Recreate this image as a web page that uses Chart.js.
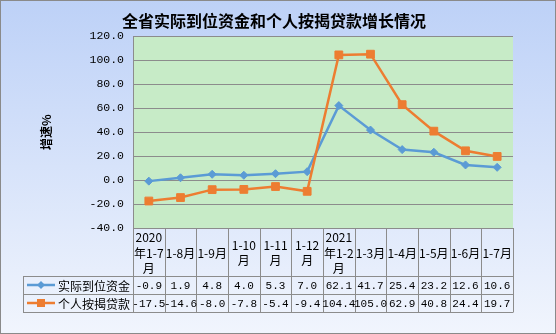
<!DOCTYPE html>
<html>
<head>
<meta charset="utf-8">
<script src="https://cdn.jsdelivr.net/npm/chart.js@4/dist/chart.umd.min.js"></script>
<style>
  html, body { margin: 0; padding: 0; background: #fff; }
  #c { display: block; }
</style>
</head>
<body>
<canvas id="c" width="556" height="334"></canvas>
<script>
// Categories (multi-line headers of the data table)
const categories = [
  ['2020', '年1-7', '月'], ['1-8月'], ['1-9月'], ['1-10', '月'], ['1-11', '月'], ['1-12', '月'],
  ['2021', '年1-2', '月'], ['1-3月'], ['1-4月'], ['1-5月'], ['1-6月'], ['1-7月']
];
const seriesNames = ['实际到位资金', '个人按揭贷款'];
const fundsGrowth    = [-0.9, 1.9, 4.8, 4.0, 5.3, 7.0, 62.1, 41.7, 25.4, 23.2, 12.6, 10.6];
const mortgageGrowth = [-17.5, -14.6, -8.0, -7.8, -5.4, -9.4, 104.4, 105.0, 62.9, 40.8, 24.4, 19.7];
const yMin = -40, yMax = 120, yStep = 20;

const BLUE = '#5b9bd5';
const ORANGE = '#ed7d31';
const LINE = '#8c8c8c';
const CJK = '"Noto Sans CJK SC", sans-serif';
const MONO = '"Liberation Mono", "DejaVu Sans Mono", monospace';

// Background, plot fill, data table and outer frame
const frame = {
  id: 'frame',
  beforeDraw(chart) {
    const { ctx, width, height, chartArea: a } = chart;
    ctx.save();
    const g = ctx.createLinearGradient(0, 0, 0, height);
    g.addColorStop(0, '#bdd1f7');
    g.addColorStop(1, '#f1f5fd');
    ctx.fillStyle = g;
    ctx.fillRect(0, 0, width, height);
    ctx.fillStyle = '#c7ebc7';
    ctx.fillRect(a.left, a.top, a.right - a.left, a.bottom - a.top);
    ctx.restore();
  },
  afterDraw(chart) {
    const { ctx, width, height, chartArea: a } = chart;
    const xs = chart.scales.x;
    const colW = xs.getPixelForValue(1) - xs.getPixelForValue(0);
    const legendLeft = 23;
    const headTop = a.bottom, headBot = headTop + 48;
    const r1Bot = headBot + 18, r2Bot = r1Bot + 18;
    const px = v => Math.round(v) + 0.5;

    ctx.save();
    ctx.strokeStyle = LINE;
    ctx.lineWidth = 1;
    ctx.beginPath();
    // horizontal rules
    ctx.moveTo(a.left, px(headTop)); ctx.lineTo(a.right, px(headTop));
    [headBot, r1Bot, r2Bot].forEach(y => { ctx.moveTo(legendLeft, px(y)); ctx.lineTo(a.right, px(y)); });
    // column rules
    for (let k = 0; k <= categories.length; k++) {
      const x = px(xs.getPixelForValue(k) - colW / 2);
      ctx.moveTo(x, headTop); ctx.lineTo(x, r2Bot + 0.5);
    }
    ctx.moveTo(px(legendLeft), headBot); ctx.lineTo(px(legendLeft), r2Bot + 0.5);
    ctx.stroke();

    ctx.fillStyle = '#000';
    ctx.textAlign = 'center';
    ctx.textBaseline = 'middle';
    // header labels
    ctx.font = '12px ' + CJK;
    const headMid = (headTop + headBot) / 2 + 1;
    const lh = 15.5;
    categories.forEach((lines, i) => {
      const cx = xs.getPixelForValue(i);
      lines.forEach((t, j) => {
        ctx.fillText(t, cx, headMid + (j - (lines.length - 1) / 2) * lh);
      });
    });
    // values
    ctx.font = '11px ' + MONO;
    const rows = [[fundsGrowth, (headBot + r1Bot) / 2], [mortgageGrowth, (r1Bot + r2Bot) / 2]];
    rows.forEach(([vals, y]) => {
      vals.forEach((v, i) => ctx.fillText(v.toFixed(1), xs.getPixelForValue(i), y + 1));
    });
    // legend keys
    const keys = [[BLUE, 'diamond', seriesNames[0], rows[0][1]], [ORANGE, 'square', seriesNames[1], rows[1][1]]];
    keys.forEach(([c, shape, name, y]) => {
      ctx.strokeStyle = c; ctx.fillStyle = c; ctx.lineWidth = 2.5;
      ctx.beginPath(); ctx.moveTo(27, y); ctx.lineTo(55, y); ctx.stroke();
      ctx.beginPath();
      if (shape === 'diamond') {
        ctx.moveTo(41, y - 4); ctx.lineTo(45, y); ctx.lineTo(41, y + 4); ctx.lineTo(37, y);
      } else {
        ctx.rect(37, y - 4, 8, 8);
      }
      ctx.fill();
      ctx.fillStyle = '#000';
      ctx.textAlign = 'left';
      ctx.font = '12px ' + CJK;
      ctx.fillText(name, 58, y + 1);
    });

    // outer frame
    ctx.strokeStyle = '#8a8a8a';
    ctx.lineWidth = 1;
    ctx.strokeRect(0.5, 0.5, width - 1, height - 1);
    ctx.restore();
  }
};

new Chart(document.getElementById('c'), {
  type: 'line',
  data: {
    labels: categories,
    datasets: [
      {
        label: seriesNames[0], data: fundsGrowth, order: 1,
        borderColor: BLUE, backgroundColor: BLUE, borderWidth: 2.5,
        pointStyle: 'rectRot', pointRadius: 4, pointBorderWidth: 1, tension: 0
      },
      {
        label: seriesNames[1], data: mortgageGrowth, order: 0,
        borderColor: ORANGE, backgroundColor: ORANGE, borderWidth: 2.5,
        pointStyle: 'rect', pointRadius: 5.5, pointBorderWidth: 1, tension: 0
      }
    ]
  },
  options: {
    responsive: false,
    animation: false,
    devicePixelRatio: 1,
    layout: { padding: { top: 1, left: 35, right: 43, bottom: 106 } },
    plugins: {
      legend: { display: false },
      tooltip: { enabled: false },
      title: {
        display: true,
        text: '全省实际到位资金和个人按揭贷款增长情况',
        color: '#000',
        font: { family: CJK, size: 16, weight: 'bold' },
        padding: { top: 10, bottom: 6 }
      }
    },
    scales: {
      x: { type: 'category', offset: true, display: false },
      y: {
        min: yMin, max: yMax,
        ticks: {
          stepSize: yStep, color: '#000', padding: 9,
          font: { family: MONO, size: 11.5 },
          callback: v => Number(v).toFixed(1)
        },
        grid: { color: LINE, lineWidth: 1, drawTicks: false },
        border: { color: LINE, width: 1 },
        title: {
          display: true, text: '增速%', color: '#000',
          font: { family: CJK, size: 12, weight: 'bold' },
          padding: { top: 4, bottom: 0 }
        },
        afterFit(scale) { scale.width = 98; }
      }
    }
  },
  plugins: [frame]
});
</script>
</body>
</html>
